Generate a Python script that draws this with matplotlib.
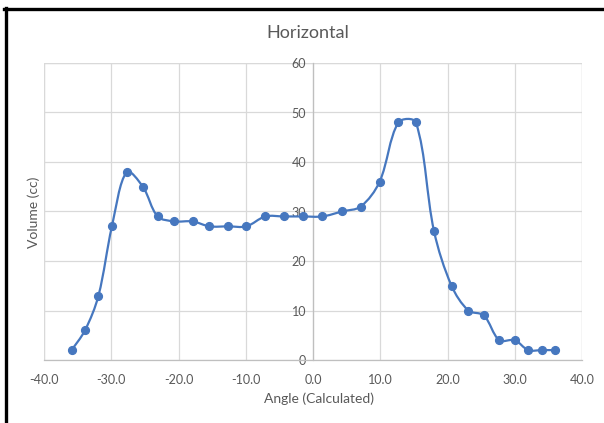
import numpy as np
import matplotlib
matplotlib.use("Agg")
import matplotlib.pyplot as plt
from matplotlib.path import Path
from matplotlib.patches import PathPatch
from matplotlib.lines import Line2D

# Measured data
angle = [-35.9, -33.9, -31.9, -29.9, -27.7, -25.3, -23.1, -20.6, -17.9, -15.4,
         -12.6, -9.9, -7.1, -4.3, -1.5, 1.4, 4.3, 7.1, 9.9, 12.7,
         15.3, 18.0, 20.6, 23.1, 25.4, 27.7, 30.0, 32.0, 34.1, 36.0]
volume = [2, 6, 13, 27, 38, 35, 29, 28, 28, 27,
          27, 27, 29, 29, 29, 29, 30, 31, 36, 48,
          48, 26, 15, 10, 9, 4, 4, 2, 2, 2]

x_ticks = [-40, -30, -20, -10, 0, 10, 20, 30, 40]
y_ticks = [0, 10, 20, 30, 40, 50, 60]

BLUE = "#4677BF"
GRID = "#d9d9d9"
AXIS = "#bfbfbf"
TEXT = "#595959"
FONT = ["Lato", "DejaVu Sans"]

W, H = 604, 423
fig = plt.figure(figsize=(W / 100, H / 100), dpi=100)
ax = fig.add_axes([44 / W, 1 - 360 / H, (582 - 44) / W, (360 - 63) / H])

ax.set_xlim(-40, 40)
ax.set_ylim(0, 60)


def smooth_path(axes, xs, ys):
    """Bezier path through the points; tangents scaled by on-screen segment lengths."""
    p = np.column_stack([xs, ys]).astype(float)
    s = axes.transData.transform(p)  # screen coordinates for length weighting
    n = len(p)

    def seg(i, j):
        return np.hypot(*(s[j] - s[i]))

    tangents = []
    for i in range(n):
        a = max(i - 1, 0)
        b = min(i + 1, n - 1)
        tangents.append((p[b] - p[a], seg(a, i), seg(i, b)))

    verts = [p[0]]
    codes = [Path.MOVETO]
    for i in range(n - 1):
        d1, l_in1, l_out1 = tangents[i]
        d2, l_in2, l_out2 = tangents[i + 1]
        w1 = 2 * l_out1 / (l_in1 + l_out1) if i > 0 else 1.0
        w2 = 2 * l_in2 / (l_in2 + l_out2) if i + 1 < n - 1 else 1.0
        c1 = p[i] + d1 / 6.0 * w1
        c2 = p[i + 1] - d2 / 6.0 * w2
        verts += [c1, c2, p[i + 1]]
        codes += [Path.CURVE4] * 3
    return Path(verts, codes)


ax.add_patch(PathPatch(smooth_path(ax, angle, volume), facecolor="none",
                       edgecolor=BLUE, lw=1.6, zorder=3, clip_on=False))
ax.plot(angle, volume, ls="none", marker="o", ms=5.6, color=BLUE, zorder=4,
        clip_on=False)

# Grid and axes in the spreadsheet style
ax.set_xticks(x_ticks)
ax.set_yticks(y_ticks)
ax.grid(True, color=GRID, lw=0.9, zorder=0)
ax.set_axisbelow(True)
for s in ["top", "right"]:
    ax.spines[s].set_visible(False)
ax.spines["left"].set_position(("data", 0))
ax.spines["left"].set_color(AXIS)
ax.spines["left"].set_linewidth(0.9)
ax.spines["bottom"].set_color(AXIS)
ax.spines["bottom"].set_linewidth(0.9)
# outer gridlines as a frame
ax.axvline(-40, color=GRID, lw=0.9, zorder=0)
ax.axvline(40, color=GRID, lw=0.9, zorder=0)
ax.axhline(60, color=GRID, lw=0.9, zorder=0)

ax.tick_params(length=0, labelsize=9, labelcolor=TEXT)
ax.tick_params(axis="x", pad=10)
ax.tick_params(axis="y", pad=5)
ax.set_xticklabels([f"{v:.1f}" for v in x_ticks], family=FONT)
ax.set_yticklabels([str(v) for v in y_ticks], family=FONT)

fig.text(308 / W, 1 - 33 / H, "Horizontal", ha="center", va="center",
         fontsize=13, color=TEXT, family=FONT)
fig.text(319 / W, 1 - 399 / H, "Angle (Calculated)", ha="center", va="center",
         fontsize=10, color=TEXT, family=FONT)
fig.text(34 / W, 1 - 212 / H, "Volume (cc)", ha="center", va="center",
         rotation=90, fontsize=10, color=TEXT, family=FONT)

# Frame lines along the left and top edges
fig.add_artist(Line2D([5.5 / W, 5.5 / W], [0, 1 - 8 / H], color="black",
                      lw=2.4, transform=fig.transFigure))
fig.add_artist(Line2D([4 / W, 1], [1 - 9.2 / H, 1 - 9.2 / H], color="black",
                      lw=2.4, transform=fig.transFigure))

fig.savefig("out.png", dpi=100)
